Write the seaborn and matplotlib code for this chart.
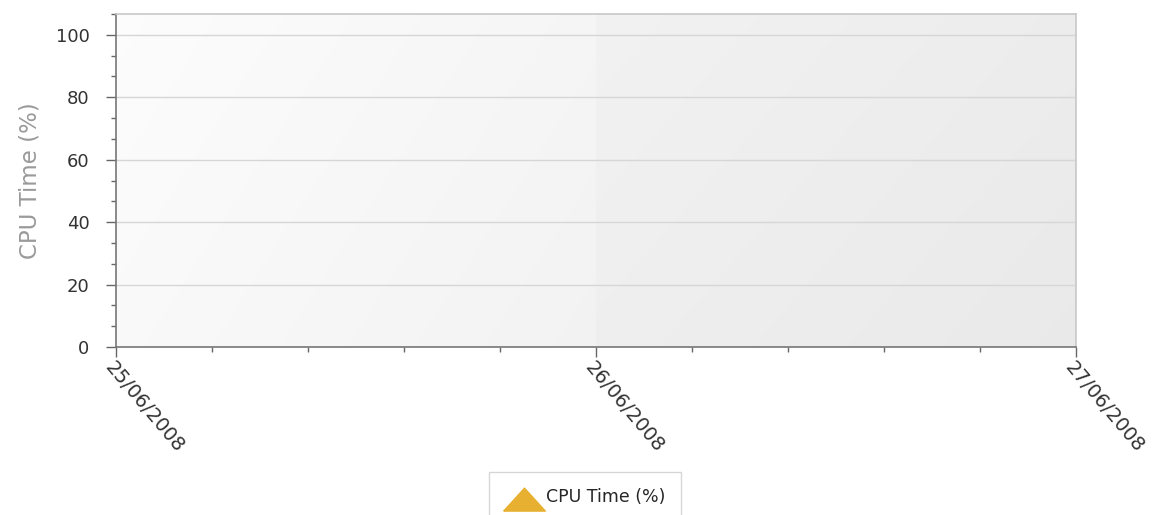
import numpy as np
import pandas as pd
import matplotlib
matplotlib.use("Agg")
import matplotlib.pyplot as plt
import matplotlib.dates as mdates
from matplotlib.ticker import MultipleLocator, AutoMinorLocator
from matplotlib.lines import Line2D
import seaborn as sns

# === DATA (the chart has no samples plotted) ===
timestamps = []
cpu_time = []
date_ticks = ["2008-06-25", "2008-06-26", "2008-06-27"]
date_labels = ["25/06/2008", "26/06/2008", "27/06/2008"]
y_ticks = [0, 20, 40, 60, 80, 100]
series_name = "CPU Time (%)"

# === STYLE ===
sns.set_style("white")
plt.rcParams["font.family"] = ["DejaVu Sans"]
GOLD = "#E8B030"
TEXT = "#333333"
# wide, flat triangle sitting a little low in the legend slot
WIDE_TRIANGLE = [(-1, -0.7), (1, -0.7), (0, 0.4), (-1, -0.7)]

df = pd.DataFrame({"time": pd.to_datetime(pd.Series(timestamps, dtype="object")),
                   "cpu": pd.Series(cpu_time, dtype=float)})

fig = plt.figure(figsize=(11.74, 5.15), dpi=100)
ax = fig.add_axes([116 / 1174, 1 - 347 / 515, 960 / 1174, 333 / 515])

sns.lineplot(data=df, x="time", y="cpu", ax=ax, color=GOLD, marker="^")

tick_nums = mdates.date2num(pd.to_datetime(date_ticks))
ax.set_xlim(tick_nums[0], tick_nums[-1])
ax.set_ylim(0, 320 / 3)

# background gradient: light at top-left, darker towards the right,
# with a faint step at the middle date
nx, ny = 400, 100
gx = np.linspace(0, 1, nx)
gy = np.linspace(0, 1, ny)[:, None]
shade = np.where(gx < 0.5, 0.99 - 0.055 * gx, 0.948 - 0.04 * (gx - 0.5))
shade = shade - 0.012 * gy
img = np.dstack([shade, shade, shade])
ax.imshow(img, extent=[0, 1, 0, 1], transform=ax.transAxes, aspect="auto",
          zorder=0, interpolation="bilinear")

# grid
ax.yaxis.set_major_locator(MultipleLocator(20))
ax.yaxis.set_minor_locator(AutoMinorLocator(3))
ax.set_yticks(y_ticks)
ax.yaxis.grid(True, color="#d6d6d6", linewidth=1, zorder=1)
ax.xaxis.grid(False)
ax.set_axisbelow(True)

ax.set_xticks(tick_nums)
ax.set_xticks(np.arange(tick_nums[0], tick_nums[-1] + 1e-9, 0.2), minor=True)
ax.set_xticklabels(date_labels, rotation=-50, ha="left", va="top",
                   rotation_mode="anchor", fontsize=14, color=TEXT)
for lbl in ax.get_yticklabels():
    lbl.set_fontsize(13)
    lbl.set_color(TEXT)

ax.tick_params(axis="both", which="major", direction="out", length=7,
               width=1, color="#666666", bottom=True, left=True)
ax.tick_params(axis="both", which="minor", direction="out", length=3.5,
               width=1, color="#666666", bottom=True, left=True)
ax.tick_params(axis="x", which="major", pad=1)
ax.tick_params(axis="y", which="major", pad=12)

ax.set_xlabel("")
ax.set_ylabel("CPU Time (%)", fontsize=16.5, color="#9a9a9a", labelpad=10)

for side in ("left", "bottom"):
    ax.spines[side].set_color("#777777")
    ax.spines[side].set_linewidth(1.2)
for side in ("top", "right"):
    ax.spines[side].set_color("#c8c8c8")
    ax.spines[side].set_linewidth(1.2)

handle = Line2D([], [], linestyle="none", marker=WIDE_TRIANGLE, markersize=30,
                markerfacecolor=GOLD, markeredgecolor=GOLD)
fig.legend([handle], [series_name], loc="upper center",
           bbox_to_anchor=(585 / 1174, 1 - 472 / 515), frameon=True,
           fancybox=False, edgecolor="#cccccc", fontsize=12.5,
           handletextpad=0.2, borderpad=0.9, handlelength=2.2,
           borderaxespad=0)

fig.savefig("out.png", dpi=100)
plt.close(fig)
